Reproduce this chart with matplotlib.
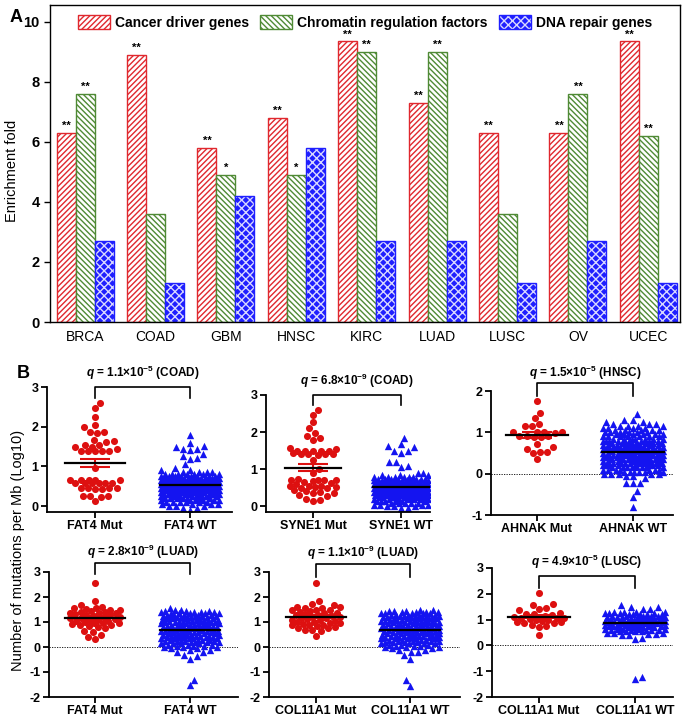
import numpy as np
import matplotlib
matplotlib.use('Agg')
import matplotlib.pyplot as plt
from matplotlib.patches import Patch
from matplotlib.transforms import blended_transform_factory

plt.rcParams['font.family'] = ['Liberation Sans', 'DejaVu Sans']
plt.rcParams['mathtext.fontset'] = 'custom'
plt.rcParams['mathtext.rm'] = 'Liberation Sans:bold'
plt.rcParams['mathtext.bf'] = 'Liberation Sans:bold'
plt.rcParams['mathtext.it'] = 'Liberation Sans:bold:italic'
plt.rcParams['mathtext.default'] = 'bf'
plt.rcParams['hatch.linewidth'] = 1.0

# ---------------- panel A data ----------------
cancers = ['BRCA', 'COAD', 'GBM', 'HNSC', 'KIRC', 'LUAD', 'LUSC', 'OV', 'UCEC']
driver = [6.3, 8.9, 5.8, 6.8, 9.35, 7.3, 6.3, 6.3, 9.35]
chromatin = [7.6, 3.6, 4.9, 4.9, 9.0, 9.0, 3.6, 7.6, 6.2]
repair = [2.7, 1.3, 4.2, 5.8, 2.7, 2.7, 1.3, 2.7, 1.3]
driver_sig = ['**', '**', '**', '**', '**', '**', '**', '**', '**']
chromatin_sig = ['**', '', '*', '*', '**', '**', '', '**', '**']
series_names = ['Cancer driver genes', 'Chromatin regulation factors', 'DNA repair genes']

# ---------------- panel B data ----------------
b_titles = [r'$\mathit{q}$ = 1.1×10$^{-5}$ (COAD)',
            r'$\mathit{q}$ = 6.8×10$^{-9}$ (COAD)',
            r'$\mathit{q}$ = 1.5×10$^{-5}$ (HNSC)',
            r'$\mathit{q}$ = 2.8×10$^{-9}$ (LUAD)',
            r'$\mathit{q}$ = 1.1×10$^{-9}$ (LUAD)',
            r'$\mathit{q}$ = 4.9×10$^{-5}$ (LUSC)']
b_labels = [('FAT4 Mut', 'FAT4 WT'), ('SYNE1 Mut', 'SYNE1 WT'), ('AHNAK Mut', 'AHNAK WT'),
            ('FAT4 Mut', 'FAT4 WT'), ('COL11A1 Mut', 'COL11A1 WT'), ('COL11A1 Mut', 'COL11A1 WT')]

fat4_coad_mut = [2.6, 2.47, 2.25, 2.05, 1.98, 1.87, 1.87, 1.83, 1.67, 1.65, 1.62, 1.55, 1.55,
                 1.5, 1.5, 1.45, 1.38, 1.38, 1.38, 1.38, 1.38, 0.95, 0.65, 0.65, 0.65, 0.65,
                 0.65, 0.57, 0.57, 0.57, 0.57, 0.57, 0.57, 0.45, 0.45, 0.45, 0.45, 0.43, 0.43,
                 0.25, 0.25, 0.25, 0.22, 0.12]
syne1_coad_mut = [2.6, 2.47, 2.27, 2.1, 1.98, 1.9, 1.83, 1.8, 1.57, 1.55, 1.5, 1.5, 1.5, 1.5,
                  1.48, 1.45, 1.42, 1.42, 1.4, 1.4, 1.38, 1.25, 1.0, 0.9, 0.75, 0.7, 0.7, 0.7,
                  0.7, 0.68, 0.65, 0.62, 0.6, 0.55, 0.55, 0.54, 0.52, 0.52, 0.5, 0.5, 0.45,
                  0.42, 0.4, 0.36, 0.35, 0.3, 0.28, 0.2, 0.18, 0.15]
ahnak_hnsc_mut = [1.76, 1.47, 1.35, 1.21, 1.15, 1.15, 1.02, 1.02, 1.02, 1.0, 0.98, 0.91, 0.9,
                  0.9, 0.88, 0.88, 0.72, 0.64, 0.6, 0.52, 0.52, 0.5, 0.35]
fat4_luad_mut = [2.57, 1.83, 1.67, 1.6, 1.57, 1.55, 1.52, 1.5, 1.48, 1.45, 1.42, 1.4, 1.38,
                 1.37, 1.35, 1.33, 1.3, 1.28, 1.25, 1.22, 1.2, 1.18, 1.15, 1.12, 1.1, 1.08,
                 1.05, 1.03, 1.0, 0.98, 0.95, 0.95, 0.92, 0.9, 0.88, 0.85, 0.8, 0.75, 0.65,
                 0.6, 0.5, 0.4, 0.33]
col11a1_luad_mut = [2.57, 1.83, 1.72, 1.7, 1.62, 1.6, 1.55, 1.55, 1.5, 1.48, 1.47, 1.45, 1.4,
                    1.38, 1.35, 1.32, 1.3, 1.28, 1.25, 1.22, 1.2, 1.18, 1.15, 1.12, 1.1, 1.08,
                    1.05, 1.02, 1.0, 0.98, 0.95, 0.92, 0.9, 0.9, 0.87, 0.85, 0.82, 0.78, 0.75,
                    0.7, 0.68, 0.65, 0.45]
col11a1_lusc_mut = [2.05, 1.62, 1.58, 1.45, 1.42, 1.38, 1.25, 1.22, 1.2, 1.18, 1.15, 1.12, 1.1,
                    1.08, 1.05, 1.05, 1.02, 1.0, 0.98, 0.95, 0.92, 0.9, 0.88, 0.85, 0.8, 0.75,
                    0.72, 0.4]

fat4_coad_wt_lv = [1.8, 1.6, 1.52, 1.5, 1.45, 1.4, 1.3, 1.25, 1.2, 1.18, 1.05, 0.95, 0.92, 0.9,
                   0.85, 0.8, 0.75, 0.7, 0.65, 0.6, 0.55, 0.5, 0.45, 0.4, 0.35, 0.3, 0.25, 0.2,
                   0.15, 0.1, 0.05, 0.0, -0.05, -0.1]
fat4_coad_wt_n = [1, 1, 1, 1, 2, 1, 1, 1, 1, 1, 1, 1, 1, 1, 4, 7, 8, 10, 10, 11, 11, 12, 11, 11,
                  10, 10, 8, 7, 6, 6, 4, 3, 2, 1]
syne1_coad_wt_lv = [1.85, 1.68, 1.62, 1.6, 1.5, 1.45, 1.2, 1.1, 1.05, 0.9, 0.85, 0.8, 0.75, 0.7,
                    0.65, 0.6, 0.55, 0.5, 0.45, 0.4, 0.35, 0.3, 0.25, 0.2, 0.15, 0.1, 0.05, 0.0,
                    -0.05]
syne1_coad_wt_n = [1, 1, 1, 1, 2, 1, 2, 1, 1, 2, 3, 6, 7, 8, 10, 10, 11, 12, 12, 11, 10, 10, 8, 7,
                   6, 5, 4, 3, 2]
ahnak_hnsc_wt_lv = [1.45, 1.3, 1.25, 1.2, 1.15, 1.1, 1.05, 1.0, 0.95, 0.9, 0.85, 0.8, 0.75, 0.7,
                    0.65, 0.6, 0.55, 0.5, 0.45, 0.4, 0.35, 0.3, 0.25, 0.2, 0.15, 0.1, 0.05, 0.0,
                    -0.05, -0.1, -0.22, -0.43, -0.57, -0.8]
ahnak_hnsc_wt_n = [1, 2, 2, 3, 4, 4, 5, 6, 6, 7, 7, 8, 8, 8, 8, 9, 9, 9, 9, 9, 9, 9, 8, 8, 8, 7,
                   6, 5, 2, 1, 3, 1, 1, 1]
fat4_luad_wt_lv = [1.55, 1.5, 1.45, 1.4, 1.35, 1.3, 1.25, 1.2, 1.15, 1.1, 1.05, 1.0, 0.95, 0.9,
                   0.85, 0.8, 0.75, 0.7, 0.65, 0.6, 0.55, 0.5, 0.45, 0.4, 0.35, 0.3, 0.25, 0.2,
                   0.15, 0.1, 0.05, 0.0, -0.05, -0.1, -0.2, -0.3, -0.35, -0.46, -1.3, -1.53]
fat4_luad_wt_n = [1, 2, 3, 4, 5, 5, 5, 5, 5, 5, 5, 5, 5, 5, 5, 5, 5, 5, 5, 5, 5, 5, 5, 5, 5, 5,
                  4, 4, 4, 3, 3, 3, 2, 2, 2, 1, 1, 1, 1, 1]
col11a1_luad_wt_lv = [1.5, 1.45, 1.4, 1.35, 1.3, 1.25, 1.2, 1.15, 1.1, 1.05, 1.0, 0.95, 0.9,
                      0.85, 0.8, 0.75, 0.7, 0.65, 0.6, 0.55, 0.5, 0.45, 0.4, 0.35, 0.3, 0.25,
                      0.2, 0.15, 0.1, 0.05, 0.0, -0.05, -0.1, -0.2, -0.3, -0.48, -1.3, -1.55]
col11a1_luad_wt_n = [2, 3, 4, 5, 5, 5, 5, 5, 5, 5, 5, 5, 5, 5, 5, 5, 5, 5, 5, 5, 5, 5, 5, 5, 4,
                     4, 4, 4, 3, 3, 3, 2, 2, 2, 1, 1, 1, 1]
col11a1_lusc_wt_lv = [1.55, 1.5, 1.4, 1.3, 1.25, 1.2, 1.15, 1.1, 1.05, 1.0, 0.95, 0.9, 0.85, 0.8,
                      0.75, 0.7, 0.65, 0.6, 0.55, 0.5, 0.45, 0.4, 0.3, 0.25, -1.23, -1.31]
col11a1_lusc_wt_n = [1, 2, 2, 4, 4, 5, 5, 5, 5, 6, 6, 6, 6, 6, 6, 5, 5, 5, 4, 3, 2, 2, 1, 1, 1, 1]

b_mut = [fat4_coad_mut, syne1_coad_mut, ahnak_hnsc_mut, fat4_luad_mut, col11a1_luad_mut,
         col11a1_lusc_mut]
b_wt = [(fat4_coad_wt_lv, fat4_coad_wt_n), (syne1_coad_wt_lv, syne1_coad_wt_n),
        (ahnak_hnsc_wt_lv, ahnak_hnsc_wt_n), (fat4_luad_wt_lv, fat4_luad_wt_n),
        (col11a1_luad_wt_lv, col11a1_luad_wt_n), (col11a1_lusc_wt_lv, col11a1_lusc_wt_n)]

# ---------------- layout (pixels of the 690x719 figure) ----------------
W_PX, H_PX = 690, 719
b_boxes = [(47, 387, 232, 512), (266, 395, 430, 512), (491, 391, 673, 515),
           (49, 572, 238, 697), (269, 572, 460, 697), (492, 568, 673, 697)]
b_xlims = [(-0.505, 1.442), (-0.534, 1.33), (-0.479, 1.417),
           (-0.484, 1.505), (-0.5, 1.532), (-0.49, 1.396)]
b_ylims = [(-0.15, 3), (-0.15, 3), (-1, 2), (-2, 3), (-2, 3), (-2, 3)]
b_yticks = [[0, 1, 2, 3], [0, 1, 2, 3], [-1, 0, 1, 2],
            [-2, -1, 0, 1, 2, 3], [-2, -1, 0, 1, 2, 3], [-2, -1, 0, 1, 2, 3]]
b_brackets = [(3.0, 2.73), (3.0, 2.73), (2.2, 1.87), (3.35, 2.92), (3.32, 2.8), (2.7, 2.23)]
b_title_y = [373, 381, 373, 552, 553, 562]
b_zero = [False, False, True, True, True, True]

RED = '#e0282e'
GREEN = '#4f8a35'
BLUE = '#1f1fff'
DOT_RED = '#dd1010'
DOT_BLUE = '#1414f0'


def px_axes(fig, box):
    l, t, r, b = box
    return fig.add_axes([l / W_PX, 1 - b / H_PX, (r - l) / W_PX, (b - t) / H_PX])


def swarm(ax, vals, size=7.0, half=0.3):
    # simple beeswarm in pixel space, points squeezed in when the column is full
    bb = ax.get_window_extent()
    x0, x1 = ax.get_xlim()
    y0, y1 = ax.get_ylim()
    kx = bb.width / (x1 - x0)
    ky = bb.height / (y1 - y0)
    v = np.sort(np.asarray(vals, float))
    hp = half * kx
    cand = np.arange(-hp, hp + 0.01, hp / np.floor(hp))
    cand = cand[np.argsort(np.abs(cand), kind='stable')]
    px, py = [], []
    for val in v:
        y = val * ky
        if px:
            ax_ = np.array(px)
            ay_ = np.array(py)
            near = np.abs(ay_ - y) < size
            ax_, ay_ = ax_[near], ay_[near]
        else:
            ax_ = ay_ = np.array([])
        if len(ax_) == 0:
            best = 0.0
        else:
            d = np.sqrt((cand[:, None] - ax_[None, :]) ** 2 + (y - ay_[None, :]) ** 2).min(1)
            ok = np.nonzero(d >= size)[0]
            best = cand[ok[0]] if len(ok) else cand[np.argmax(d)]
        px.append(best)
        py.append(y)
    return np.array(px) / kx, v


fig = plt.figure(figsize=(6.9, 7.19), dpi=100)

# ---------------- panel A ----------------
axA = px_axes(fig, (50, 5, 680, 322))
x = np.arange(len(cancers))
w = 0.27
axA.bar(x - w, driver, w, facecolor='white', edgecolor=RED, hatch='//////', lw=0)
axA.bar(x - w, driver, w, fill=False, edgecolor=RED, lw=1)
axA.bar(x, chromatin, w, facecolor='white', edgecolor=GREEN, hatch='\\\\\\\\\\\\', lw=0)
axA.bar(x, chromatin, w, fill=False, edgecolor=GREEN, lw=1)
axA.bar(x + w, repair, w, facecolor=BLUE, edgecolor='#d8d8ff', hatch='xxxx', lw=0)
axA.bar(x + w, repair, w, fill=False, edgecolor=BLUE, lw=1)

for i in range(len(cancers)):
    if driver_sig[i]:
        axA.text(x[i] - w, driver[i] + 0.05, driver_sig[i], ha='center', va='bottom',
                 fontsize=8, fontweight='bold')
    if chromatin_sig[i]:
        axA.text(x[i], chromatin[i] + 0.05, chromatin_sig[i], ha='center', va='bottom',
                 fontsize=8, fontweight='bold')

axA.set_xlim(-0.5, 8.45)
axA.set_ylim(0, 10.55)
axA.set_xticks(x, cancers, fontsize=10)
axA.set_yticks(range(0, 11, 2), [str(t) for t in range(0, 11, 2)], fontsize=10.5,
               fontweight='bold')
axA.tick_params(axis='x', length=0, pad=6)
axA.tick_params(axis='y', direction='out', length=4, width=1)
for sp in axA.spines.values():
    sp.set_linewidth(1)

handles = [(Patch(facecolor='white', edgecolor=RED, hatch='//////', lw=0),
            Patch(fill=False, edgecolor=RED, lw=1)),
           (Patch(facecolor='white', edgecolor=GREEN, hatch='\\\\\\\\\\\\', lw=0),
            Patch(fill=False, edgecolor=GREEN, lw=1)),
           (Patch(facecolor=BLUE, edgecolor='#d8d8ff', hatch='xxxx', lw=0),
            Patch(fill=False, edgecolor=BLUE, lw=1))]
axA.legend(handles, series_names, loc='upper center', ncol=3, frameon=False,
           prop={'weight': 'bold', 'size': 10}, handlelength=2.3, handleheight=1.2,
           columnspacing=0.8, handletextpad=0.35, borderaxespad=0.3)

fig.text(10 / W_PX, 1 - 18 / H_PX, 'A', fontsize=13, fontweight='bold', va='center')
fig.text(12 / W_PX, 1 - 171 / H_PX, 'Enrichment fold', rotation=90, fontsize=10.5,
         ha='center', va='center')

# ---------------- panel B ----------------
fig.text(17 / W_PX, 1 - 373 / H_PX, 'B', fontsize=13, fontweight='bold', va='center')
fig.text(18 / W_PX, 1 - 550 / H_PX, 'Number of mutations per Mb (Log10)', rotation=90,
         fontsize=10.5, ha='center', va='center')

for k in range(6):
    ax = px_axes(fig, b_boxes[k])
    ax.set_xlim(*b_xlims[k])
    ax.set_ylim(*b_ylims[k])

    mut = np.asarray(b_mut[k], float)
    wt = np.repeat(b_wt[k][0], b_wt[k][1]).astype(float)

    if b_zero[k]:
        ax.axhline(0, color='black', lw=0.6, ls=(0, (1.5, 1.5)), zorder=1)

    xs, ys = swarm(ax, mut, size=7.0, half=0.26)
    ax.scatter(xs, ys, s=26, color=DOT_RED, marker='o', linewidths=0, zorder=2)
    xs, ys = swarm(ax, wt, size=7.0, half=0.31)
    ax.scatter(1 + xs, ys, s=28, color=DOT_BLUE, marker='^', linewidths=0, zorder=2)

    for c, vals, col, hw in [(0, mut, DOT_RED, 0.32), (1, wt, DOT_BLUE, 0.32)]:
        m = vals.mean()
        sem = vals.std(ddof=1) / np.sqrt(len(vals))
        ax.errorbar(c, m, yerr=sem, color=col, capsize=11, capthick=1.5, elinewidth=1.5,
                    zorder=3)
        ax.plot([c - hw, c + hw], [m, m], color='black', lw=1.6, zorder=4)

    top, drop = b_brackets[k]
    ax.plot([0, 0, 1, 1], [drop, top, top, drop], color='black', lw=1.2, clip_on=False)
    tr = blended_transform_factory(ax.transData, fig.transFigure)
    ax.text(0.5, 1 - b_title_y[k] / H_PX, b_titles[k], transform=tr, ha='center',
            va='center', fontsize=8.5, fontweight='bold')

    ax.set_xticks([0, 1], b_labels[k], fontsize=9, fontweight='bold')
    ax.set_yticks(b_yticks[k], [str(t) for t in b_yticks[k]], fontsize=9, fontweight='bold')
    ax.spines['top'].set_visible(False)
    ax.spines['right'].set_visible(False)
    ax.spines['left'].set_linewidth(1.3)
    ax.spines['bottom'].set_linewidth(1.3)
    ax.tick_params(direction='out', length=4, width=1.3, pad=2)

fig.savefig('out.png', dpi=100)
